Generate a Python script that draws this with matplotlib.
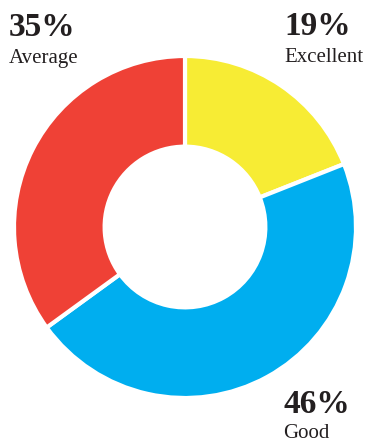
import matplotlib
matplotlib.use('Agg')
from matplotlib import pyplot as plt

labels = ['Excellent', 'Good', 'Average']
shares = [19, 46, 35]
colors = ['#F7EC34', '#00AEEF', '#EF4136']

W, H = 365, 446
fig = plt.figure(figsize=(W / 100, H / 100), dpi=100)
ax = fig.add_axes([14 / W, (H - 227 - 171) / H, 342 / W, 342 / H])
ax.pie(shares, colors=colors, startangle=90, counterclock=False,
       wedgeprops=dict(width=0.53, edgecolor='white', linewidth=3))
ax.set_aspect('equal')
ax.set_xlim(-1, 1)
ax.set_ylim(-1, 1)
ax.axis('off')

serif = ['Liberation Serif', 'DejaVu Serif']
# (x, baseline of percent, baseline of label) in pixels
spots = {'Average': (9, 36, 63), 'Excellent': (284, 35, 62), 'Good': (283, 413, 438)}
for name, pct in zip(labels, shares):
    x, y1, y2 = spots[name]
    fig.text(x / W, 1 - y1 / H, f'{pct}%', family=serif, fontweight='bold',
             fontsize=24, color='#231F20', va='baseline')
    fig.text(x / W, 1 - y2 / H, name, family=serif, fontsize=15,
             color='#231F20', va='baseline')

fig.savefig('out.png', dpi=100)
